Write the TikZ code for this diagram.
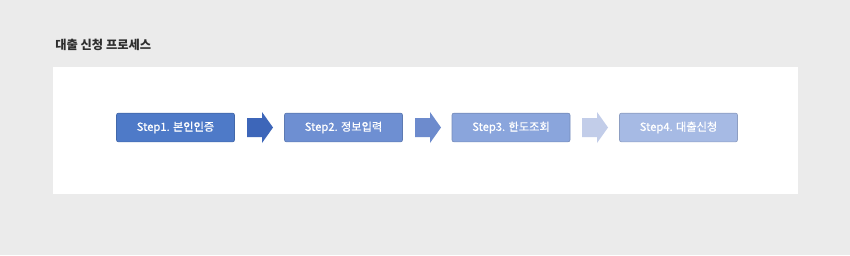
\documentclass[tikz,border=0pt]{standalone}
\usepackage{fontspec}
\setmainfont{Noto Sans CJK KR}
\newfontfamily\semib[FakeBold=0.6]{Noto Sans CJK KR}
\definecolor{bgc}{HTML}{EBEBEB}
\definecolor{titlec}{HTML}{2E2E2E}
\definecolor{boxa}{HTML}{4E7AC8}
\definecolor{boxb}{HTML}{6E8FD2}
\definecolor{boxc}{HTML}{8AA5DC}
\definecolor{boxd}{HTML}{A6BAE4}
\definecolor{arra}{HTML}{3D66B9}
\definecolor{arrb}{HTML}{6D8BCD}
\definecolor{arrc}{HTML}{C2CDE9}
\tikzset{
  x=0.75pt, y=-0.75pt,
  stepbox/.style={draw=#1!85!black, fill=#1, rounded corners=1.5pt, line width=0.5pt,
    minimum width=88.5pt, minimum height=21.5pt, inner sep=0pt, text=white,
    font=\semib\fontsize{8.4pt}{10pt}\selectfont},
}
\newcommand\flowarr[2]{%
  \fill[#2] ([shift={(-13,-9.5)}]#1) -- ([shift={(2,-9.5)}]#1) -- ([shift={(2,-15.5)}]#1)
    -- ([shift={(13,0)}]#1) -- ([shift={(2,15.5)}]#1) -- ([shift={(2,9.5)}]#1)
    -- ([shift={(-13,9.5)}]#1) -- cycle;}
\begin{document}
\begin{tikzpicture}
\fill[bgc] (0,0) rectangle (850,255);
\useasboundingbox (0,0) rectangle (850,255);
\node[anchor=west, inner sep=0pt, text=titlec, font=\fontsize{9.2pt}{11pt}\selectfont\bfseries] (title) at (55,45) {대출 신청 프로세스};
\fill[white] (53,67) rectangle (797.5,193.5);
\node[stepbox=boxa] (s1) at (175.5,127.5) {Step1. 본인인증};
\node[stepbox=boxb] (s2) at (343.5,127.5) {Step2. 정보입력};
\node[stepbox=boxc] (s3) at (511,127.5) {Step3. 한도조회};
\node[stepbox=boxd] (s4) at (678.5,127.5) {Step4. 대출신청};
\coordinate (a1) at (260,127.5);
\coordinate (a2) at (428,127.5);
\coordinate (a3) at (595,127.5);
\flowarr{a1}{arra}
\flowarr{a2}{arrb}
\flowarr{a3}{arrc}
\end{tikzpicture}
\end{document}
